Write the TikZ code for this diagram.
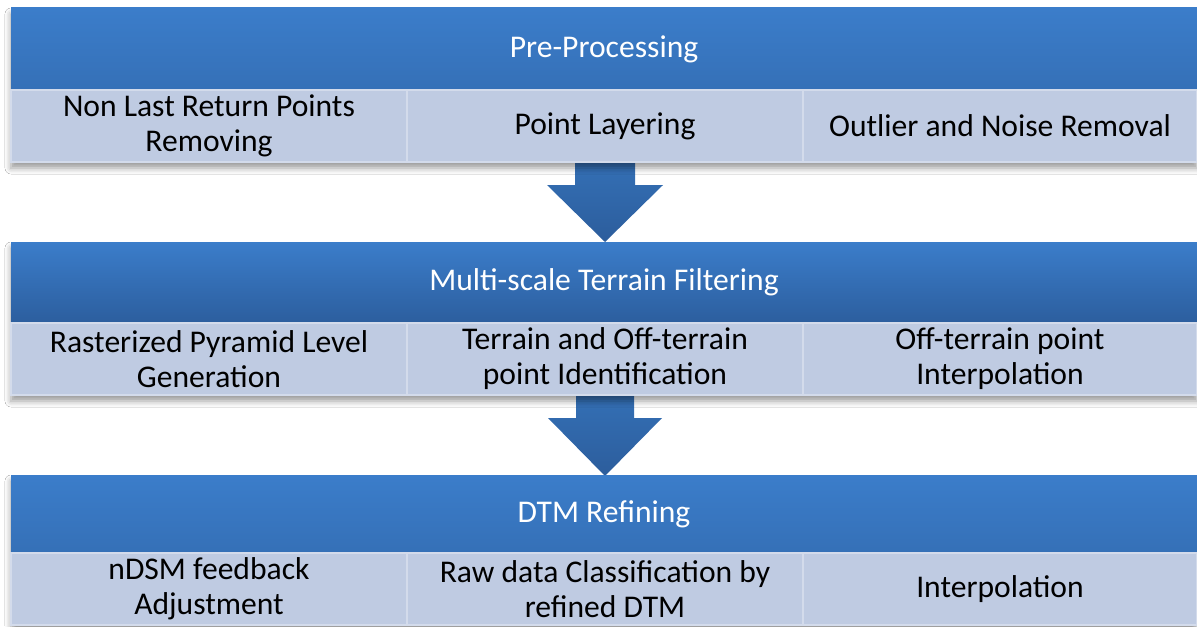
\documentclass[tikz,border=0pt]{standalone}
\usepackage{fontspec}
\setmainfont{Carlito}
\usetikzlibrary{shadows.blur,calc}

\definecolor{headtop}{HTML}{3B7DCA}
\definecolor{headbot}{HTML}{3570B7}
\definecolor{headbotdark}{HTML}{2C5E9E}
\definecolor{cellfill}{HTML}{BFCBE2}
\definecolor{cellline}{HTML}{D3DBEB}
\definecolor{arrowtop}{HTML}{3470B6}
\definecolor{arrowbot}{HTML}{2C5D9C}

\tikzset{
  header/.style={anchor=north west, inner sep=0pt, outer sep=0pt,
    minimum width=593pt, text=white, align=center,
    top color=headtop, bottom color=headbot,
    font=\fontsize{15.8}{17.5}\selectfont},
  cell/.style={anchor=north west, inner sep=0pt, outer sep=0pt,
    minimum height=36pt, fill=cellfill, draw=cellline, line width=0.8pt,
    align=center, text=black, font=\fontsize{15.8}{17.5}\selectfont},
  panelshadow/.style={fill=cellfill, blur shadow={shadow xshift=0pt,
    shadow yshift=-3pt, shadow blur radius=3pt, shadow opacity=40}},
  blockarrow/.style={top color=arrowtop, bottom color=arrowbot, draw=none},
}

\begin{document}
\begin{tikzpicture}[x=0.5pt,y=-0.5pt]
  \useasboundingbox (0,0) rectangle (1197,626);
  \fill[white] (0,0) rectangle (1197,626);

  % block arrows between the stages
  \coordinate (a1top) at (605,160);
  \coordinate (a2top) at (605,393);
  \path[blockarrow] ($(a1top)+(-30,0)$) -- ++(60,0) -- ++(0,25) -- ++(28,0)
     -- (605,242) -- ($(a1top)+(-58,25)$) -- ++(28,0) -- cycle;
  \path[blockarrow] ($(a2top)+(-29,0)$) -- ++(58,0) -- ++(0,25) -- ++(28,0)
     -- (605,476) -- ($(a2top)+(-57,25)$) -- ++(28,0) -- cycle;

  % stage 1
  \path[panelshadow] (11,8) rectangle (1197,162);
  \node[header, minimum height=41pt] (h1) at (11,8) {Pre-Processing};
  \node[cell, minimum width=198pt] (c11) at (h1.south west) {Non Last Return Points\\Removing};
  \node[cell, minimum width=198pt] (c12) at (c11.north east) {Point Layering};
  \node[cell, minimum width=197pt] (c13) at (c12.north east) {Outlier and Noise Removal};

  % stage 2
  \path[panelshadow] (11,242) rectangle (1197,395);
  \node[header, minimum height=40.5pt, bottom color=headbotdark] (h2) at (11,242) {Multi-scale Terrain Filtering};
  \node[cell, minimum width=198pt] (c21) at (h2.south west) {Rasterized Pyramid Level\\Generation};
  \node[cell, minimum width=198pt] (c22) at (c21.north east) {Terrain and Off-terrain\\point Identification};
  \node[cell, minimum width=197pt] (c23) at (c22.north east) {Off-terrain point\\Interpolation};

  % stage 3
  \path[panelshadow] (11,475) rectangle (1197,626);
  \node[header, minimum height=39pt] (h3) at (11,475) {DTM Refining};
  \node[cell, minimum width=198pt] (c31) at (h3.south west) {nDSM feedback\\Adjustment};
  \node[cell, minimum width=198pt] (c32) at (c31.north east) {Raw data Classification by\\refined DTM};
  \node[cell, minimum width=197pt] (c33) at (c32.north east) {Interpolation};
\end{tikzpicture}
\end{document}
